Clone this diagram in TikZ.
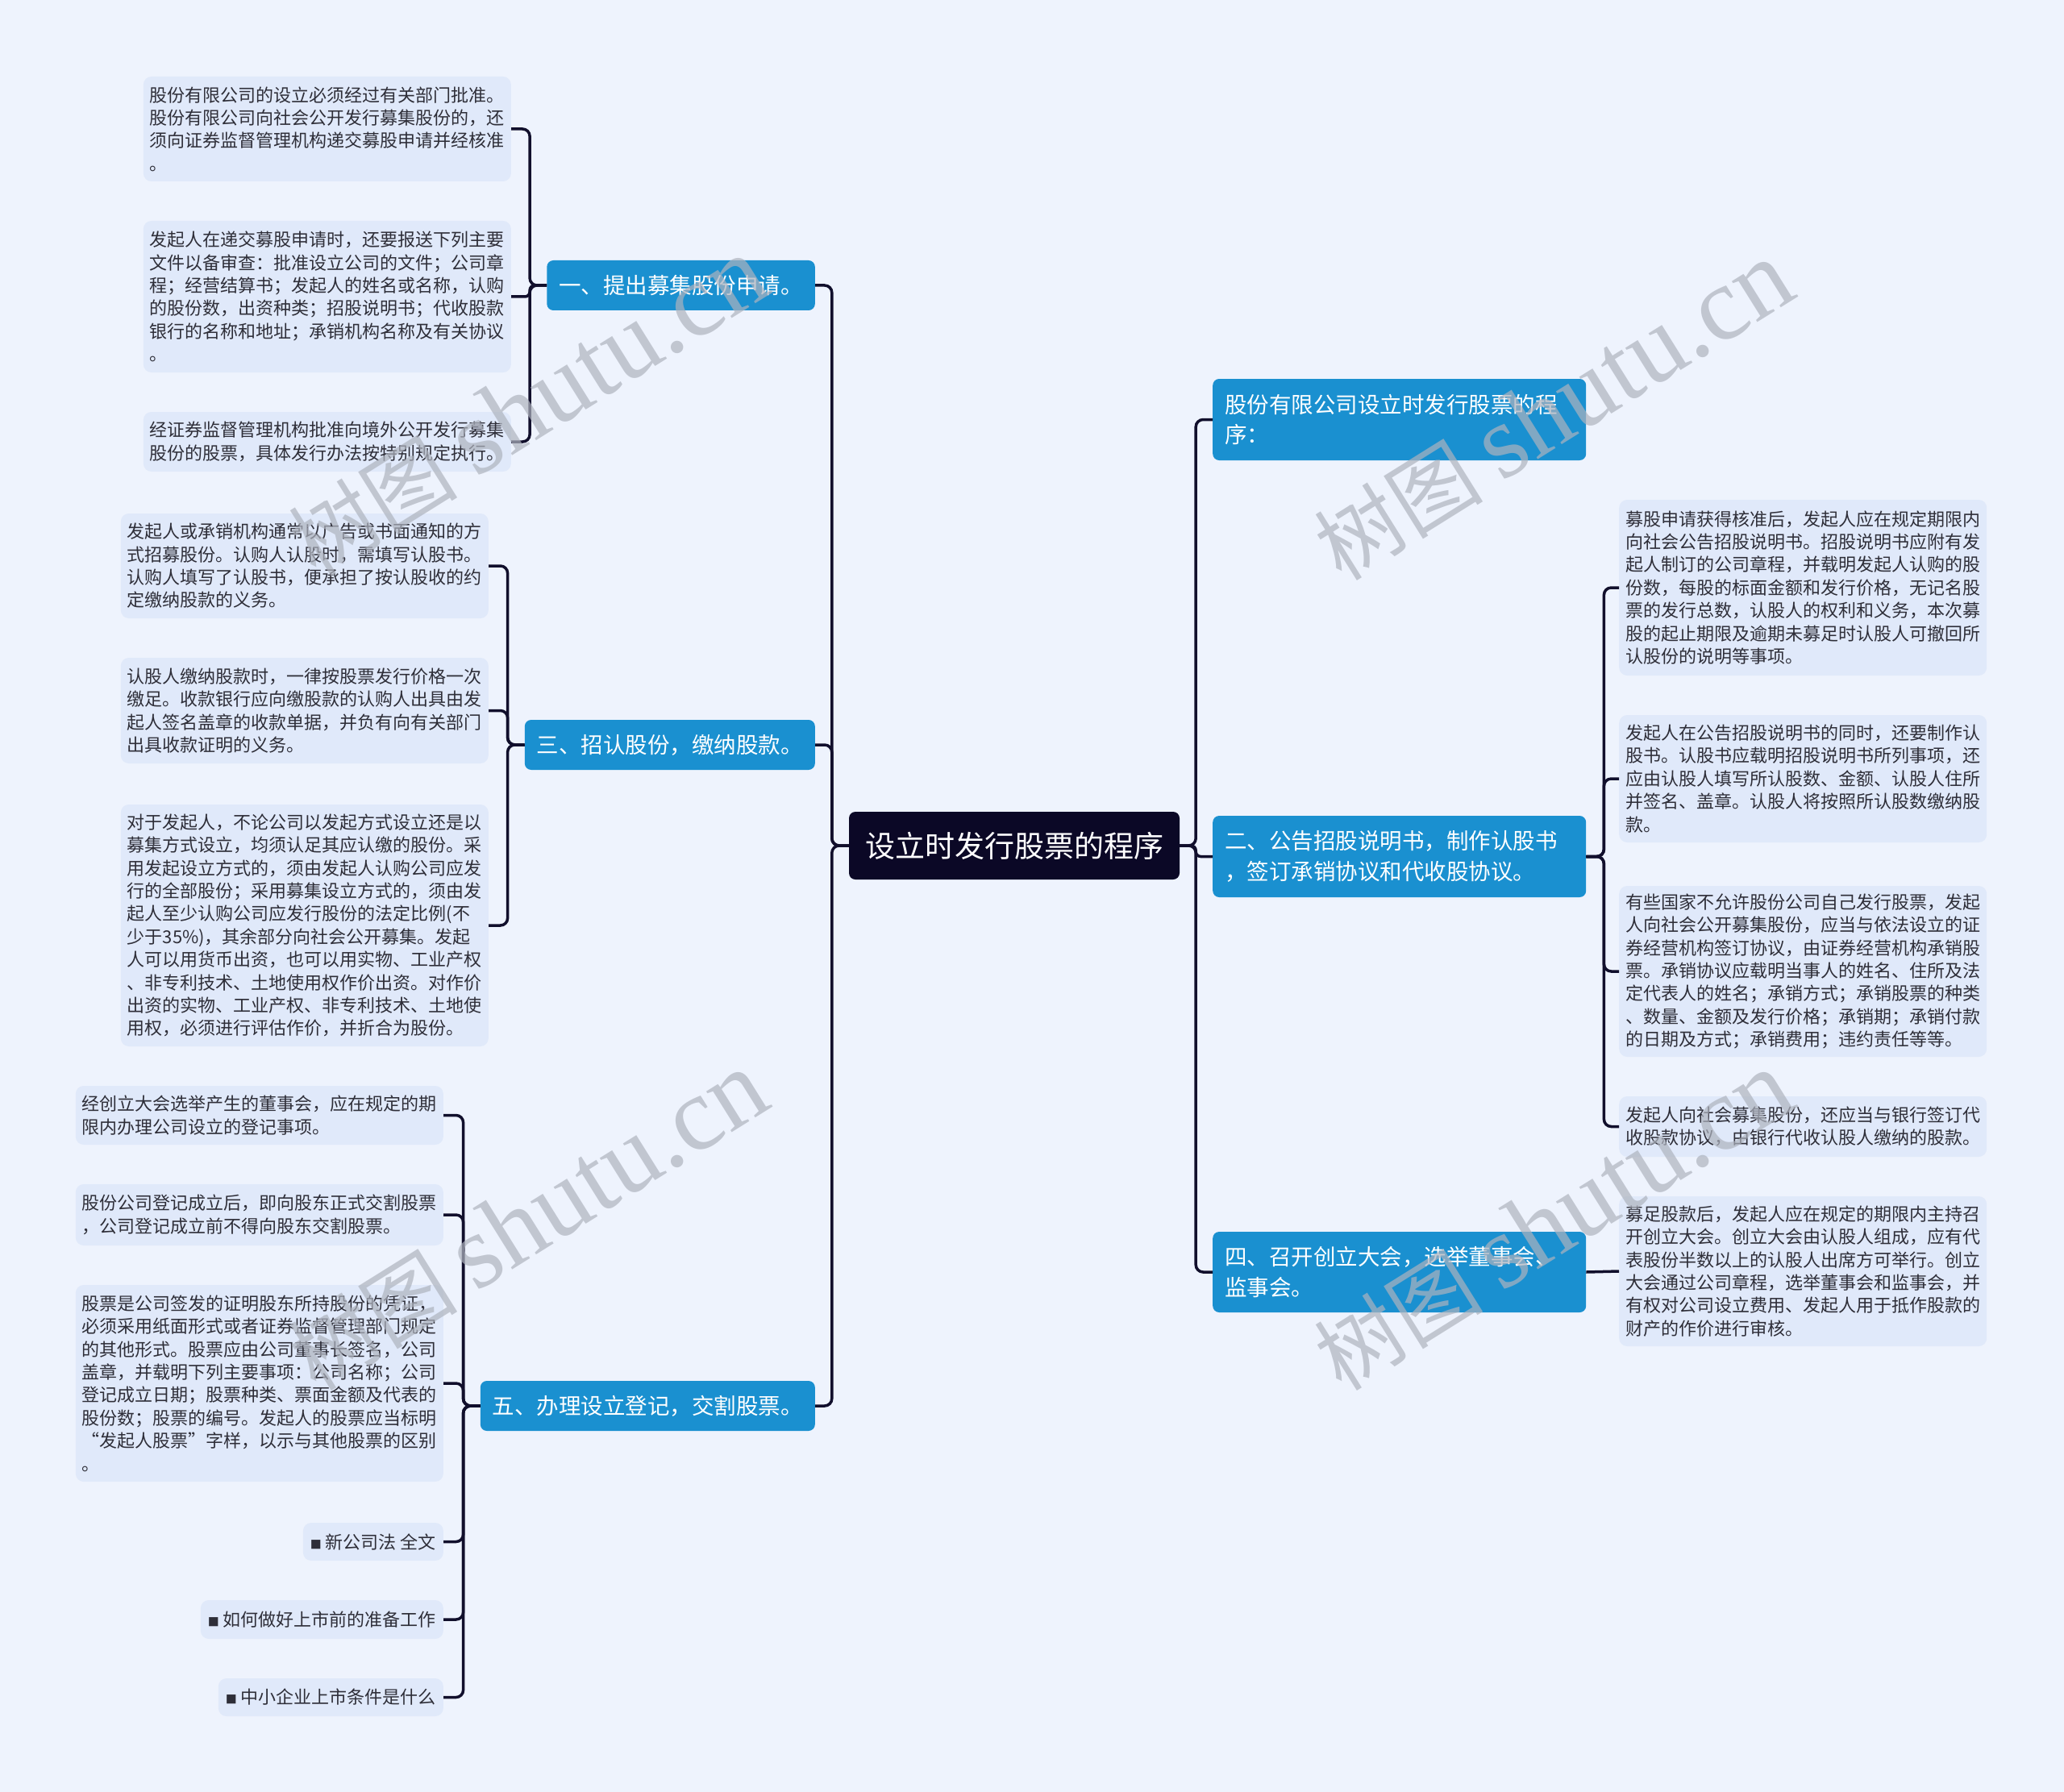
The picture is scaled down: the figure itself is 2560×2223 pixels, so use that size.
\documentclass[tikz,border=0pt]{standalone}
\usepackage{fontspec}
\setmainfont{Noto Sans CJK SC}
\newfontfamily\wmlatin{Liberation Serif}
\definecolor{bgc}{HTML}{EEF3FD}
\definecolor{leafc}{HTML}{E0E9FA}
\definecolor{leaftext}{HTML}{2E2E38}
\definecolor{topicc}{HTML}{1A90D0}
\definecolor{rootc}{HTML}{0B0826}
\definecolor{linec}{HTML}{110F2C}
\definecolor{wmc}{HTML}{AEB3BE}
\tikzset{
  conn/.style={draw=linec, line width=3.5pt, rounded corners=9pt},
  leaf/.style={fill=leafc, rounded corners=10pt, text=leaftext,
    font=\fontsize{22}{28.4}\selectfont, align=left,
    inner xsep=8pt, inner ysep=0pt, text width=440pt},
  leafsmall/.style={fill=leafc, rounded corners=10pt, text=leaftext,
    font=\fontsize{22}{28.4}\selectfont, inner xsep=9pt, inner ysep=0pt},
  topic/.style={fill=topicc, rounded corners=8pt, text=white,
    font=\fontsize{27.5}{37.5}\selectfont, inner xsep=15pt, inner ysep=0pt, align=left},
  rootnode/.style={fill=rootc, rounded corners=8pt, text=white,
    font=\fontsize{37}{44}\selectfont, inner sep=0pt},
  wm/.style={text=wmc, opacity=0.7, rotate=32}
}
\newcommand{\sqb}{{\fontsize{14}{14}\selectfont ■}}
\begin{document}
\begin{tikzpicture}[x=1pt,y=-1pt]
\fill[bgc] (0,0) rectangle (2560,2223);
\useasboundingbox (0,0) rectangle (2560,2223);

% root
\node[rootnode, minimum width=410pt, minimum height=84pt] (root) at (1258,1049) {设立时发行股票的程序};

% level-1 topics
\node[topic, minimum height=62pt, anchor=east] (t1) at (1011,354) {一、提出募集股份申请。};
\node[topic, minimum height=62pt, anchor=east] (t3) at (1011,924) {三、招认股份，缴纳股款。};
\node[topic, minimum height=62pt, anchor=east] (t5) at (1011,1744) {五、办理设立登记，交割股票。};
\node[topic, minimum height=101pt, text width=433pt, anchor=west] (tr1) at (1504,520.5) {股份有限公司设立时发行股票的程\\序：};
\node[topic, minimum height=101pt, text width=433pt, anchor=west] (t2) at (1504,1062.5) {二、公告招股说明书，制作认股书\\，签订承销协议和代收股协议。};
\node[topic, minimum height=100pt, text width=433pt, anchor=west] (t4) at (1504,1578) {四、召开创立大会，选举董事会、\\监事会。};

% group 1 leaves
\node[leaf, minimum height=130pt, anchor=east] (a1) at (634,160) {股份有限公司的设立必须经过有关部门批准。\\股份有限公司向社会公开发行募集股份的，还\\须向证券监督管理机构递交募股申请并经核准\\。};
\node[leaf, minimum height=188pt, anchor=east] (a2) at (634,368) {发起人在递交募股申请时，还要报送下列主要\\文件以备审查：批准设立公司的文件；公司章\\程；经营结算书；发起人的姓名或名称，认购\\的股份数，出资种类；招股说明书；代收股款\\银行的名称和地址；承销机构名称及有关协议\\。};
\node[leaf, minimum height=74pt, anchor=east] (a3) at (634,548) {经证券监督管理机构批准向境外公开发行募集\\股份的股票，具体发行办法按特别规定执行。};

% group 3 leaves
\node[leaf, minimum height=130pt, anchor=east] (b1) at (606,702) {发起人或承销机构通常以广告或书面通知的方\\式招募股份。认购人认股时，需填写认股书。\\认购人填写了认股书，便承担了按认股收的约\\定缴纳股款的义务。};
\node[leaf, minimum height=131pt, anchor=east] (b2) at (606,881.5) {认股人缴纳股款时，一律按股票发行价格一次\\缴足。收款银行应向缴股款的认购人出具由发\\起人签名盖章的收款单据，并负有向有关部门\\出具收款证明的义务。};
\node[leaf, minimum height=300pt, anchor=east] (b3) at (606,1148) {对于发起人，不论公司以发起方式设立还是以\\募集方式设立，均须认足其应认缴的股份。采\\用发起设立方式的，须由发起人认购公司应发\\行的全部股份；采用募集设立方式的，须由发\\起人至少认购公司应发行股份的法定比例(不\\少于35\%)，其余部分向社会公开募集。发起\\人可以用货币出资，也可以用实物、工业产权\\、非专利技术、土地使用权作价出资。对作价\\出资的实物、工业产权、非专利技术、土地使\\用权，必须进行评估作价，并折合为股份。};

% group 5 leaves
\node[leaf, minimum height=73pt, anchor=east] (c1) at (550,1383.5) {经创立大会选举产生的董事会，应在规定的期\\限内办理公司设立的登记事项。};
\node[leaf, minimum height=76pt, anchor=east] (c2) at (550,1507) {股份公司登记成立后，即向股东正式交割股票\\，公司登记成立前不得向股东交割股票。};
\node[leaf, minimum height=244pt, anchor=east] (c3) at (550,1716) {股票是公司签发的证明股东所持股份的凭证，\\必须采用纸面形式或者证券监督管理部门规定\\的其他形式。股票应由公司董事长签名，公司\\盖章，并载明下列主要事项：公司名称；公司\\登记成立日期；股票种类、票面金额及代表的\\股份数；股票的编号。发起人的股票应当标明\\“发起人股票”字样，以示与其他股票的区别\\。};
\node[leafsmall, minimum height=47pt, anchor=east] (c4) at (550,1912.5) {\sqb\ 新公司法 全文};
\node[leafsmall, minimum height=48pt, anchor=east] (c5) at (550,2009) {\sqb\ 如何做好上市前的准备工作};
\node[leafsmall, minimum height=47pt, anchor=east] (c6) at (550,2105.5) {\sqb\ 中小企业上市条件是什么};

% right leaves
\node[leaf, minimum height=218pt, anchor=west] (d1) at (2008,729) {募股申请获得核准后，发起人应在规定期限内\\向社会公告招股说明书。招股说明书应附有发\\起人制订的公司章程，并载明发起人认购的股\\份数，每股的标面金额和发行价格，无记名股\\票的发行总数，认股人的权利和义务，本次募\\股的起止期限及逾期未募足时认股人可撤回所\\认股份的说明等事项。};
\node[leaf, minimum height=158pt, anchor=west] (d2) at (2008,966) {发起人在公告招股说明书的同时，还要制作认\\股书。认股书应载明招股说明书所列事项，还\\应由认股人填写所认股数、金额、认股人住所\\并签名、盖章。认股人将按照所认股数缴纳股\\款。};
\node[leaf, minimum height=212pt, anchor=west] (d3) at (2008,1205) {有些国家不允许股份公司自己发行股票，发起\\人向社会公开募集股份，应当与依法设立的证\\券经营机构签订协议，由证券经营机构承销股\\票。承销协议应载明当事人的姓名、住所及法\\定代表人的姓名；承销方式；承销股票的种类\\、数量、金额及发行价格；承销期；承销付款\\的日期及方式；承销费用；违约责任等等。};
\node[leaf, minimum height=75pt, anchor=west] (d4) at (2008,1397.5) {发起人向社会募集股份，还应当与银行签订代\\收股款协议，由银行代收认股人缴纳的股款。};
\node[leaf, minimum height=186pt, anchor=west] (e1) at (2008,1577) {募足股款后，发起人应在规定的期限内主持召\\开创立大会。创立大会由认股人组成，应有代\\表股份半数以上的认股人出席方可举行。创立\\大会通过公司章程，选举董事会和监事会，并\\有权对公司设立费用、发起人用于抵作股款的\\财产的作价进行审核。};

% connectors root
\draw[conn] (root.west) -- ++(-21,0) |- (t1.east);
\draw[conn] (root.west) -- ++(-21,0) |- (t3.east);
\draw[conn] (root.west) -- ++(-21,0) |- (t5.east);
\draw[conn] (root.east) -- ++(20,0) |- (tr1.west);
\draw[conn, rounded corners=6pt] (root.east) -- ++(20,0) |- (t2.west);
\draw[conn] (root.east) -- ++(20,0) |- (t4.west);

% group 1
\draw[conn] (t1.west) -- ++(-21,0) |- (a1.east);
\draw[conn, rounded corners=6pt] (t1.west) -- ++(-21,0) |- (a2.east);
\draw[conn] (t1.west) -- ++(-21,0) |- (a3.east);
% group 3
\draw[conn] (t3.west) -- ++(-21,0) |- (b1.east);
\draw[conn] (t3.west) -- ++(-21,0) |- (b2.east);
\draw[conn] (t3.west) -- ++(-21,0) |- (b3.east);
% group 5
\draw[conn] (t5.west) -- ++(-21,0) |- (c1.east);
\draw[conn] (t5.west) -- ++(-21,0) |- (c2.east);
\draw[conn] (t5.west) -- ++(-21,0) |- (c3.east);
\draw[conn] (t5.west) -- ++(-21,0) |- (c4.east);
\draw[conn] (t5.west) -- ++(-21,0) |- (c5.east);
\draw[conn] (t5.west) -- ++(-21,0) |- (c6.east);
% group 2
\draw[conn] (t2.east) -- ++(22,0) |- (d1.west);
\draw[conn] (t2.east) -- ++(22,0) |- (d2.west);
\draw[conn] (t2.east) -- ++(22,0) |- (d3.west);
\draw[conn] (t2.east) -- ++(22,0) |- (d4.west);
% group 4
\draw[conn] (t4.east) -- (e1.west);

% watermarks
\node[wm] (w1) at (655,505) {\fontsize{105}{105}\selectfont 树图 {\wmlatin\fontsize{130}{130}\selectfont shutu.cn}};
\node[wm] (w2) at (1927,510) {\fontsize{105}{105}\selectfont 树图 {\wmlatin\fontsize{130}{130}\selectfont shutu.cn}};
\node[wm] (w3) at (655,1515) {\fontsize{105}{105}\selectfont 树图 {\wmlatin\fontsize{130}{130}\selectfont shutu.cn}};
\node[wm] (w4) at (1927,1515) {\fontsize{105}{105}\selectfont 树图 {\wmlatin\fontsize{130}{130}\selectfont shutu.cn}};
\end{tikzpicture}
\end{document}
